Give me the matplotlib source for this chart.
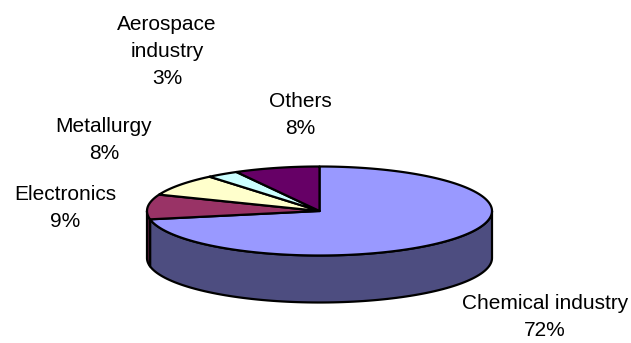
import numpy as np
import matplotlib.pyplot as plt
from matplotlib.patches import Polygon

labels = ["Chemical industry", "Electronics", "Metallurgy", "Aerospace\nindustry", "Others"]
values = [72, 9, 8, 3, 8]
top_colors = ["#9999FF", "#993366", "#FFFFCC", "#CCFFFF", "#660066"]
side_colors = ["#4D4D80", "#4D1A33", "#808066", "#668080", "#330033"]

# label centres in pixel coords (x, y of first line)
label_pos = [(545, 302), (65, 193), (104, 125), (167, 23), (300, 100)]

cx, cy = 319.5, 211
a, b = 172.5, 44.5
depth = 47


def ell(theta):
    t = np.radians(theta)
    return cx + a * np.cos(t), cy - b * np.sin(t)


fig = plt.figure(figsize=(6.31, 3.43), dpi=100)
ax = fig.add_axes([0, 0, 1, 1])
ax.set_xlim(0, 631)
ax.set_ylim(343, 0)
ax.axis("off")

fracs = np.array(values) / np.sum(values)
starts = 90 - np.concatenate([[0], np.cumsum(fracs)[:-1]]) * 360
ends = starts - fracs * 360

# sides (front half only: math angles between -180 and 0)
for s, e, col in zip(starts, ends, side_colors):
    hi = min(s, 0)
    lo = max(e, -180)
    if hi <= lo:
        continue
    th = np.linspace(hi, lo, 100)
    x, y = ell(th)
    pts = np.column_stack([np.r_[x, x[::-1]], np.r_[y, y[::-1] + depth]])
    ax.add_patch(Polygon(pts, closed=True, facecolor=col, edgecolor="black", lw=1.6, joinstyle="round"))

# top faces
for s, e, col in zip(starts, ends, top_colors):
    th = np.linspace(s, e, 200)
    x, y = ell(th)
    pts = np.column_stack([np.r_[cx, x], np.r_[cy, y]])
    ax.add_patch(Polygon(pts, closed=True, facecolor=col, edgecolor="black", lw=1.6, joinstyle="round"))

for lab, v, (px, py) in zip(labels, values, label_pos):
    ax.text(px, py - 8, f"{lab}\n{v}%", ha="center", va="top", fontsize=15,
            family="Liberation Sans", linespacing=1.55)

fig.savefig("out.png", dpi=100)
